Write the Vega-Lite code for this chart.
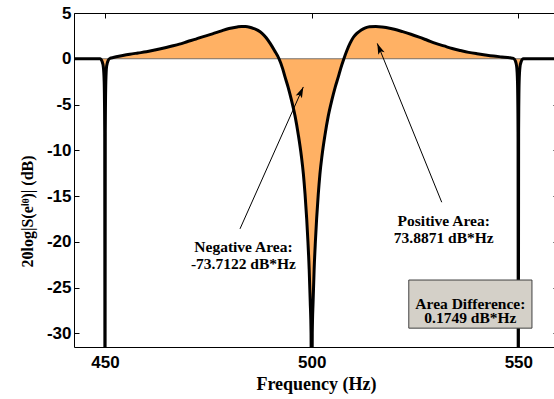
{
  "$schema": "https://vega.github.io/schema/vega-lite/v6.json",
  "width": 484,
  "height": 334,
  "autosize": "none",
  "padding": {"left": 74, "top": 13, "right": -4, "bottom": 52},
  "background": "white",
  "config": {
    "view": {"stroke": null},
    "axis": {"grid": false, "domainColor": "black", "tickColor": "black", "domainWidth": 1, "tickWidth": 1, "labelColor": "black", "titleColor": "black"}
  },
  "datasets": {
    "curve": [
      {"f": 442.5, "db": 0}, {"f": 446, "db": 0}, {"f": 448.8, "db": 0}, {"f": 449.3, "db": -0.3},
      {"f": 449.6, "db": -0.9}, {"f": 449.8, "db": -2.5}, {"f": 449.93, "db": -8}, {"f": 450, "db": -45},
      {"f": 450.07, "db": -8}, {"f": 450.2, "db": -2.5}, {"f": 450.4, "db": -0.8}, {"f": 450.8, "db": -0.15},
      {"f": 451.3, "db": 0.06}, {"f": 452, "db": 0.14}, {"f": 454, "db": 0.33}, {"f": 456, "db": 0.5},
      {"f": 458, "db": 0.63}, {"f": 460, "db": 0.76}, {"f": 462, "db": 0.95}, {"f": 464, "db": 1.15},
      {"f": 466, "db": 1.37}, {"f": 468, "db": 1.6}, {"f": 470, "db": 1.88}, {"f": 472, "db": 2.15},
      {"f": 474, "db": 2.45}, {"f": 476, "db": 2.72}, {"f": 478, "db": 3.02}, {"f": 480, "db": 3.3},
      {"f": 482, "db": 3.48}, {"f": 483, "db": 3.53}, {"f": 484, "db": 3.52}, {"f": 485, "db": 3.45},
      {"f": 486, "db": 3.3}, {"f": 487, "db": 3.1}, {"f": 488, "db": 2.78}, {"f": 489, "db": 2.3},
      {"f": 490, "db": 1.65}, {"f": 491, "db": 0.9}, {"f": 492.1, "db": 0}, {"f": 493, "db": -1.1},
      {"f": 493.5, "db": -1.9}, {"f": 494.3, "db": -3.1}, {"f": 495.1, "db": -4.5}, {"f": 496, "db": -6.3},
      {"f": 496.8, "db": -8.4}, {"f": 497.5, "db": -10.6}, {"f": 498, "db": -12.6}, {"f": 498.4, "db": -14.8},
      {"f": 498.8, "db": -17.5}, {"f": 499.1, "db": -20}, {"f": 499.4, "db": -23}, {"f": 499.65, "db": -26.5},
      {"f": 499.85, "db": -30}, {"f": 500, "db": -45}, {"f": 500.15, "db": -30}, {"f": 500.35, "db": -26.5},
      {"f": 500.6, "db": -23}, {"f": 500.9, "db": -20}, {"f": 501.2, "db": -17.5}, {"f": 501.6, "db": -14.8},
      {"f": 502, "db": -12.6}, {"f": 502.5, "db": -10.6}, {"f": 503.2, "db": -8.4}, {"f": 504, "db": -6.3},
      {"f": 504.9, "db": -4.5}, {"f": 505.7, "db": -3.1}, {"f": 506.5, "db": -1.9}, {"f": 507, "db": -1.1},
      {"f": 507.8, "db": 0}, {"f": 508.5, "db": 0.87}, {"f": 509.3, "db": 1.7}, {"f": 510.1, "db": 2.35},
      {"f": 511, "db": 2.8}, {"f": 512, "db": 3.15}, {"f": 513, "db": 3.38}, {"f": 514, "db": 3.5},
      {"f": 515.5, "db": 3.53}, {"f": 517, "db": 3.48}, {"f": 518, "db": 3.42}, {"f": 520, "db": 3.22},
      {"f": 522, "db": 2.96}, {"f": 524, "db": 2.68}, {"f": 526, "db": 2.36}, {"f": 528, "db": 2.02},
      {"f": 530, "db": 1.68}, {"f": 532, "db": 1.4}, {"f": 534, "db": 1.12}, {"f": 536, "db": 0.9},
      {"f": 538, "db": 0.7}, {"f": 540, "db": 0.55}, {"f": 542, "db": 0.42}, {"f": 544, "db": 0.3},
      {"f": 546, "db": 0.2}, {"f": 548, "db": 0.1}, {"f": 548.8, "db": 0.04}, {"f": 549.3, "db": -0.25},
      {"f": 549.6, "db": -0.85}, {"f": 549.8, "db": -2.5}, {"f": 549.93, "db": -8}, {"f": 550, "db": -45},
      {"f": 550.07, "db": -8}, {"f": 550.2, "db": -2.5}, {"f": 550.4, "db": -0.9}, {"f": 550.7, "db": -0.3},
      {"f": 551.2, "db": 0}, {"f": 555, "db": 0}, {"f": 559.6, "db": 0}
    ],
    "arrows": [
      {"f": 482.66, "db": -18.59, "f2": 497.98, "db2": -3.08, "ang": 24.1},
      {"f": 531.47, "db": -15.68, "f2": 515.88, "db2": 1.68, "ang": 337.9}
    ],
    "notes": [
      {"f": 483.5, "db": -20.6, "t": "Negative Area:\n-73.7122 dB*Hz"},
      {"f": 531.95, "db": -17.76, "t": "Positive Area:\n73.8871 dB*Hz"}
    ],
    "box": [
      {"f": 523.5, "f2": 553.3, "db": -24.18, "db2": -29.44, "t": "Area Difference:\n0.1749 dB*Hz", "fc": 538.4, "dbc": -26.75}
    ]
  },
  "resolve": {"axis": {"x": "independent", "y": "independent"}},
  "layer": [
    {
      "data": {"name": "curve"},
      "mark": {"type": "area", "color": "#FFB164", "clip": true, "interpolate": "monotone"},
      "encoding": {
        "x": {"field": "f", "type": "quantitative",
          "scale": {"domain": [442.5, 559.6], "nice": false, "zero": false},
          "axis": {"orient": "bottom", "values": [450, 500, 550], "title": "Frequency (Hz)",
            "titleFont": "Liberation Serif", "titleFontWeight": "bold", "titleFontSize": 18,
            "titleY": 37, "titleBaseline": "middle",
            "labelFont": "Liberation Sans", "labelFontWeight": "bold", "labelFontSize": 17,
            "tickSize": -5, "labelPadding": 12, "labelFlush": false}},
        "y": {"field": "db", "type": "quantitative",
          "scale": {"domain": [-31.5, 5], "nice": false, "zero": false},
          "axis": {"orient": "left", "values": [-30, -25, -20, -15, -10, -5, 0, 5],
            "labelExpr": "'' + datum.value",
            "title": "20log|S(eⁱᶿ)| (dB)",
            "titleFont": "Liberation Serif", "titleFontWeight": "bold", "titleFontSize": 16,
            "titleX": -47, "titleY": 198, "titleBaseline": "middle", "titleAngle": 270,
            "labelFont": "Liberation Sans", "labelFontWeight": "bold", "labelFontSize": 17,
            "tickSize": -5, "labelPadding": 8, "labelFlush": false}},
        "y2": {"datum": 0}
      }
    },
    {
      "data": {"values": [{"z": 0}]},
      "mark": {"type": "rule", "color": "#555555", "strokeWidth": 0.8},
      "encoding": {"y": {"field": "z", "type": "quantitative", "axis": null}}
    },
    {
      "data": {"name": "curve"},
      "mark": {"type": "line", "color": "black", "strokeWidth": 3, "clip": true, "interpolate": "monotone"},
      "encoding": {
        "x": {"field": "f", "type": "quantitative",
          "axis": {"orient": "top", "values": [450, 500, 550], "labels": false, "title": null, "tickSize": -5}},
        "y": {"field": "db", "type": "quantitative",
          "axis": {"orient": "right", "values": [-30, -25, -20, -15, -10, -5, 0, 5], "labels": false, "title": null, "tickSize": -5}}
      }
    },
    {
      "data": {"name": "arrows"},
      "mark": {"type": "rule", "color": "black", "strokeWidth": 1},
      "encoding": {
        "x": {"field": "f", "type": "quantitative", "axis": null},
        "y": {"field": "db", "type": "quantitative", "axis": null},
        "x2": {"field": "f2"},
        "y2": {"field": "db2"}
      }
    },
    {
      "data": {"name": "arrows"},
      "mark": {"type": "point", "shape": "M0,0L-0.62,2L0,1.55L0.62,2Z", "size": 121, "filled": true, "color": "black", "opacity": 1},
      "encoding": {
        "x": {"field": "f2", "type": "quantitative", "axis": null},
        "y": {"field": "db2", "type": "quantitative", "axis": null},
        "angle": {"field": "ang", "type": "quantitative", "scale": null}
      }
    },
    {
      "data": {"name": "notes"},
      "mark": {"type": "text", "font": "Liberation Serif", "fontWeight": "bold", "fontSize": 15.5, "lineBreak": "\n", "lineHeight": 16.3, "align": "center", "baseline": "middle", "color": "black"},
      "encoding": {
        "x": {"field": "f", "type": "quantitative", "axis": null},
        "y": {"field": "db", "type": "quantitative", "axis": null},
        "text": {"field": "t"}
      }
    },
    {
      "data": {"name": "box"},
      "mark": {"type": "rect", "fill": "#D4D0C8", "stroke": "#404040", "strokeWidth": 1},
      "encoding": {
        "x": {"field": "f", "type": "quantitative", "axis": null},
        "x2": {"field": "f2"},
        "y": {"field": "db", "type": "quantitative", "axis": null},
        "y2": {"field": "db2"}
      }
    },
    {
      "data": {"name": "box"},
      "mark": {"type": "text", "font": "Liberation Serif", "fontWeight": "bold", "fontSize": 15.5, "lineBreak": "\n", "lineHeight": 14.7, "align": "center", "baseline": "middle", "color": "black"},
      "encoding": {
        "x": {"field": "fc", "type": "quantitative", "axis": null},
        "y": {"field": "dbc", "type": "quantitative", "axis": null},
        "text": {"field": "t"}
      }
    }
  ]
}
